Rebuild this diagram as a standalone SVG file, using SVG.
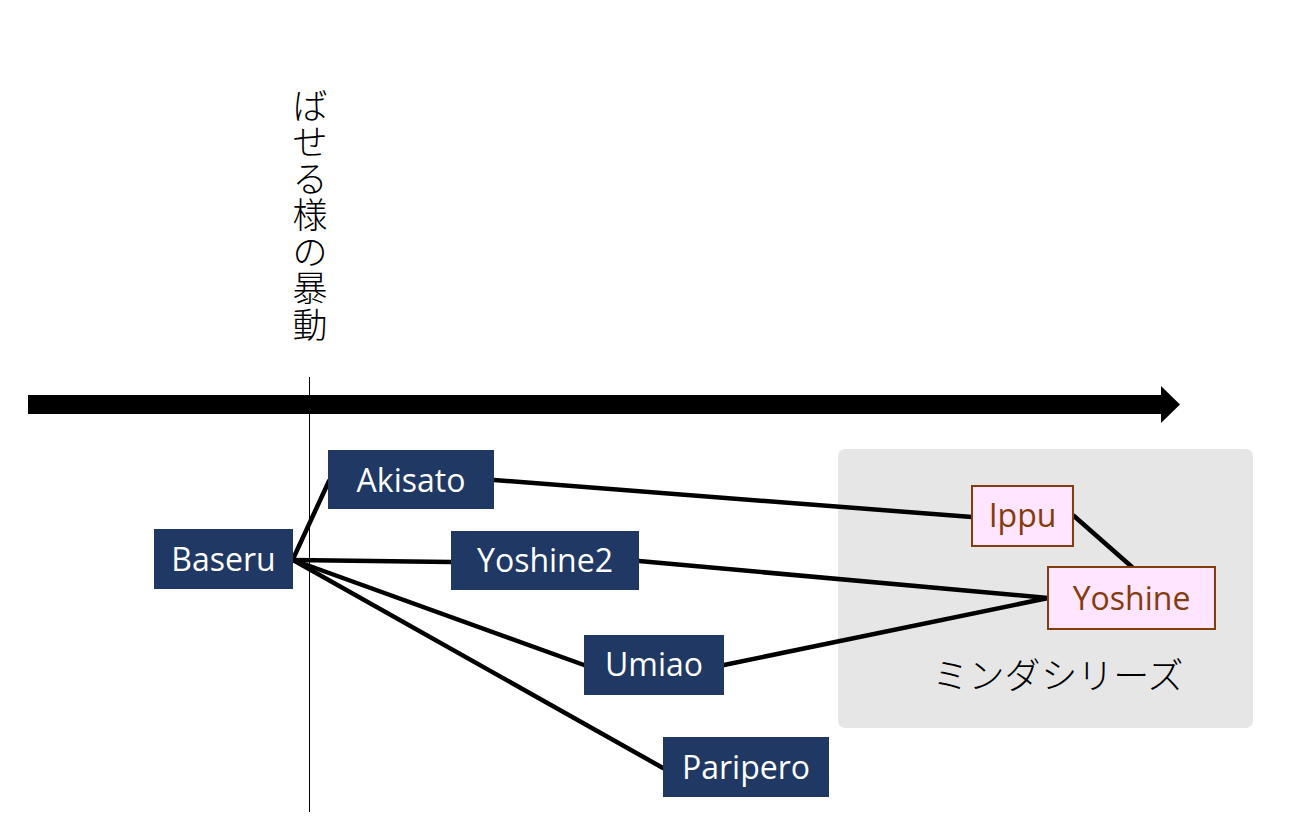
<svg xmlns="http://www.w3.org/2000/svg" width="1296" height="824" viewBox="0 0 1296 824">
<style>
.dark rect{fill:#203864}
.dark text{fill:#fff;font-family:"Open Sans","Noto Sans",sans-serif;font-size:32px;text-anchor:middle}
.pink rect{fill:#ffe5ff;stroke:#843c0c;stroke-width:2}
.pink text{fill:#843c0c;font-family:"Open Sans","Noto Sans",sans-serif;font-size:32px;text-anchor:middle}
.jp{font-family:"Noto Sans CJK JP",sans-serif;font-weight:300;fill:#000;font-size:36px;text-anchor:middle}
.vt{font-family:"Noto Sans CJK JP",sans-serif;font-weight:300;fill:#000;font-size:35px;text-anchor:middle;dominant-baseline:central}
#connectors line{stroke:#000;stroke-width:4.5;stroke-linecap:round}
</style>
<rect width="1296" height="824" fill="#fff"/>
<g id="axis">
<line x1="309.5" y1="377" x2="309.5" y2="812" stroke="#000" stroke-width="1"/>
<rect x="28" y="395" width="1134" height="19" fill="#000"/>
<polygon points="1161,386 1180,404.5 1161,423" fill="#000"/>
</g>
<g id="title">
<text class="vt" x="310" y="103">ば</text>
<text class="vt" x="310" y="139.5">せ</text>
<text class="vt" x="310" y="176">る</text>
<text class="vt" x="310" y="212.5">様</text>
<text class="vt" x="310" y="249">の</text>
<text class="vt" x="310" y="285.5">暴</text>
<text class="vt" x="310" y="322">動</text>
</g>
<g id="minda-series">
<rect x="838" y="449" width="415" height="279" rx="7" fill="#e6e6e6"/>
<text class="jp" x="1058" y="689">ミンダシリーズ</text>
</g>
<g id="connectors">
<line x1="293" y1="559" x2="329" y2="481"/>
<line x1="293" y1="560" x2="451" y2="562"/>
<line x1="293" y1="560" x2="584" y2="665"/>
<line x1="293" y1="560" x2="663" y2="768"/>
<line x1="494" y1="480" x2="972" y2="517"/>
<line x1="639" y1="561" x2="1048" y2="598"/>
<line x1="724" y1="665" x2="1048" y2="598"/>
<line x1="1074" y1="516" x2="1132" y2="567"/>
</g>
<g id="Baseru" class="dark"><rect x="154" y="529" width="139" height="60"/><text x="223.5" y="571">Baseru</text></g>
<g id="Akisato" class="dark"><rect x="328" y="450" width="166" height="59"/><text x="411" y="492">Akisato</text></g>
<g id="Yoshine2" class="dark"><rect x="451" y="531" width="188" height="59"/><text x="545" y="572">Yoshine2</text></g>
<g id="Umiao" class="dark"><rect x="584" y="635" width="140" height="60"/><text x="654" y="676">Umiao</text></g>
<g id="Paripero" class="dark"><rect x="663" y="737" width="166" height="60"/><text x="746" y="779">Paripero</text></g>
<g id="Ippu" class="pink"><rect x="972" y="486" width="101" height="60"/><text x="1022.5" y="527">Ippu</text></g>
<g id="Yoshine" class="pink"><rect x="1048" y="567" width="167" height="62"/><text x="1131.5" y="610">Yoshine</text></g>
</svg>
